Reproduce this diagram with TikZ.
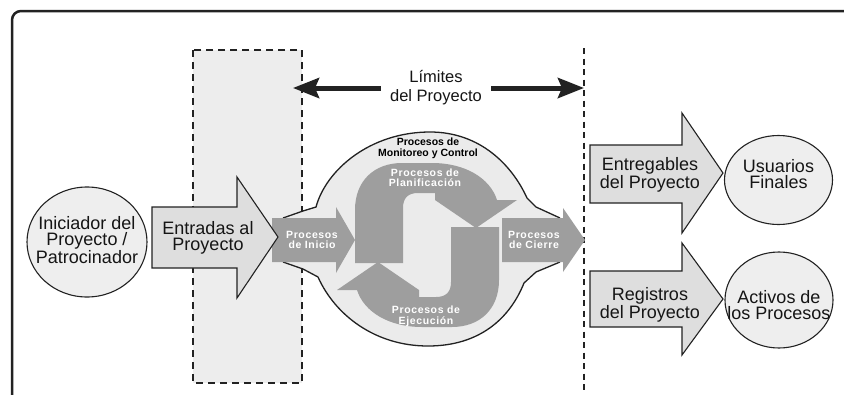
\documentclass[tikz,border=0pt]{standalone}
\usepackage{fontspec}
\setmainfont{Liberation Sans}
\usetikzlibrary{arrows.meta,shapes.geometric}
\definecolor{ink}{HTML}{222222}
\definecolor{txt}{HTML}{151515}
\definecolor{zonegray}{HTML}{EDEDED}
\definecolor{blobgray}{HTML}{EBEBEB}
\definecolor{procgray}{HTML}{9E9E9E}
\definecolor{arrowfill}{HTML}{DEDEDE}
\definecolor{circfill}{HTML}{EEEEEE}
\tikzset{
  lbl/.style={font=\fontsize{18}{16.5}\selectfont, text=txt, align=center, inner sep=0pt},
  limlbl/.style={font=\fontsize{16.5}{19}\selectfont, text=txt, align=center, inner xsep=9pt, inner ysep=0pt},
  proctxt/.style={font=\fontsize{10.5}{10.5}\selectfont\bfseries\addfontfeature{LetterSpace=6}, text=white, align=center, inner sep=0pt},
  montxt/.style={font=\fontsize{10.5}{11}\selectfont\bfseries, text=black, align=center, inner sep=0pt},
  blockarrow/.style={fill=arrowfill, draw=ink, line width=1.1pt, line join=miter},
  procshape/.style={fill=procgray, draw=none},
  circ/.style={ellipse, draw=ink, line width=1.1pt, fill=circfill, inner sep=0pt},
  bigarr/.style={-{Stealth[length=26pt,width=20pt,inset=4pt]}, line width=5pt, ink},
  zoneline/.style={draw=ink, line width=2pt, dash pattern=on 7pt off 5pt},
  boundline/.style={draw=ink, line width=2pt, dash pattern=on 6pt off 4.5pt},
  outline/.style={draw=ink, line width=1.3pt}
}
\begin{document}
\begin{tikzpicture}[x=1pt,y=-1pt]
\useasboundingbox (0,0) rectangle (844,394);
\clip (0,0) rectangle (844,394);
\fill[white] (0,0) rectangle (844,394);
% frame
\draw[ink, line width=2.5pt, rounded corners=9pt] (12,11) rectangle (880,430);
% input zone
\fill[zonegray] (193,50) rectangle (302,383);
\draw[zoneline] (193,50) rectangle (302,383);
% project boundary
\coordinate (bTop) at (584,48);
\coordinate (bBot) at (584,394);
\draw[boundline] (bTop) -- (bBot);
% central blob
\fill[blobgray] (283,218) -- (303,211) -- (316,207) .. controls (326,170) and (370,132) .. (430,132)
  .. controls (480,132) and (512,165) .. (527,198) -- (536,207) -- (560,218) -- (560,262)
  -- (536,272) -- (524,283) .. controls (510,318) and (480,346) .. (428,346)
  .. controls (375,346) and (335,315) .. (318,277) -- (303,269) -- (283,262) -- cycle;
\draw[outline] (283,218) -- (303,211) -- (316,207) .. controls (326,170) and (370,132) .. (430,132)
  .. controls (480,132) and (512,165) .. (527,198) -- (536,207) -- (560,218);
\draw[outline] (560,262) -- (536,272) -- (524,283) .. controls (510,318) and (480,346) .. (428,346)
  .. controls (375,346) and (335,315) .. (318,277) -- (303,269) -- (283,262);
% planning / executing S
\fill[procshape] (355,263) -- (355,210) .. controls (355,180) and (375,163) .. (402,163) -- (432,163)
  .. controls (465,163) and (490,178) .. (497,200) -- (517,200) -- (476,228) -- (435,200) -- (435,193)
  -- (418,193) .. controls (408,193) and (403,198) .. (403,208) -- (403,263) -- cycle;
\fill[procshape, rotate around={180:(427,245)}] (355,263) -- (355,210) .. controls (355,180) and (375,163) .. (402,163) -- (432,163)
  .. controls (465,163) and (490,178) .. (497,200) -- (517,200) -- (476,228) -- (435,200) -- (435,193)
  -- (418,193) .. controls (408,193) and (403,198) .. (403,208) -- (403,263) -- cycle;
% initiating and closing arrows
\fill[procshape] (272,218) -- (336,218) -- (336,207) -- (355,240) -- (336,273) -- (336,262) -- (272,262) -- cycle;
\fill[procshape] (502,218) -- (563,218) -- (563,208) -- (585,240) -- (563,272) -- (563,262) -- (502,262) -- cycle;
% texts of the processes
\node[montxt] (mon) at (428,148) {Procesos de\\Monitoreo y Control};
\node[proctxt] (plan) at (425,177.5) {Procesos de\\Planificación};
\node[proctxt] (ejec) at (426,316.5) {Procesos de\\Ejecución};
\node[proctxt] (ini) at (312,240) {Procesos\\de Inicio};
\node[proctxt] (cie) at (534,240) {Procesos\\de Cierre};
% inputs arrow
\draw[blockarrow] (152,207) -- (237,207) -- (237,177) -- (278,237) -- (237,298) -- (237,268) -- (152,268) -- cycle;
\node[lbl] (entr) at (208,238) {Entradas al\\Proyecto};
% deliverables and records arrows
\draw[blockarrow] (590,145) -- (682,145) -- (682,113) -- (723,173) -- (682,233) -- (682,203) -- (590,203) -- cycle;
\node[lbl] (entg) at (650,175) {Entregables\\del Proyecto};
\draw[blockarrow] (590,271) -- (682,271) -- (682,243) -- (723,299) -- (682,355) -- (682,327) -- (590,327) -- cycle;
\node[lbl] (regs) at (650,305) {Registros\\del Proyecto};
% circles
\node[circ, minimum width=120pt, minimum height=110pt] (init) at (87,242) {};
\node[lbl] (initT) at (87,240) {Iniciador del\\Proyecto /\\Patrocinador};
\node[circ, minimum width=108pt, minimum height=89pt] (usu) at (778.5,180) {};
\node[lbl] (usuT) at (778.5,174) {Usuarios\\Finales};
\node[circ, minimum width=108pt, minimum height=96pt] (act) at (779,300) {};
\node[lbl] (actT) at (779,305) {Activos de\\los Procesos};
% project limits
\node[limlbl] (lim) at (436,88) {Límites\\del Proyecto};
\coordinate (limL) at (293,88);
\coordinate (limR) at (584,88);
\draw[bigarr] (lim) -- (limL);
\draw[bigarr] (lim) -- (limR);
\end{tikzpicture}
\end{document}
